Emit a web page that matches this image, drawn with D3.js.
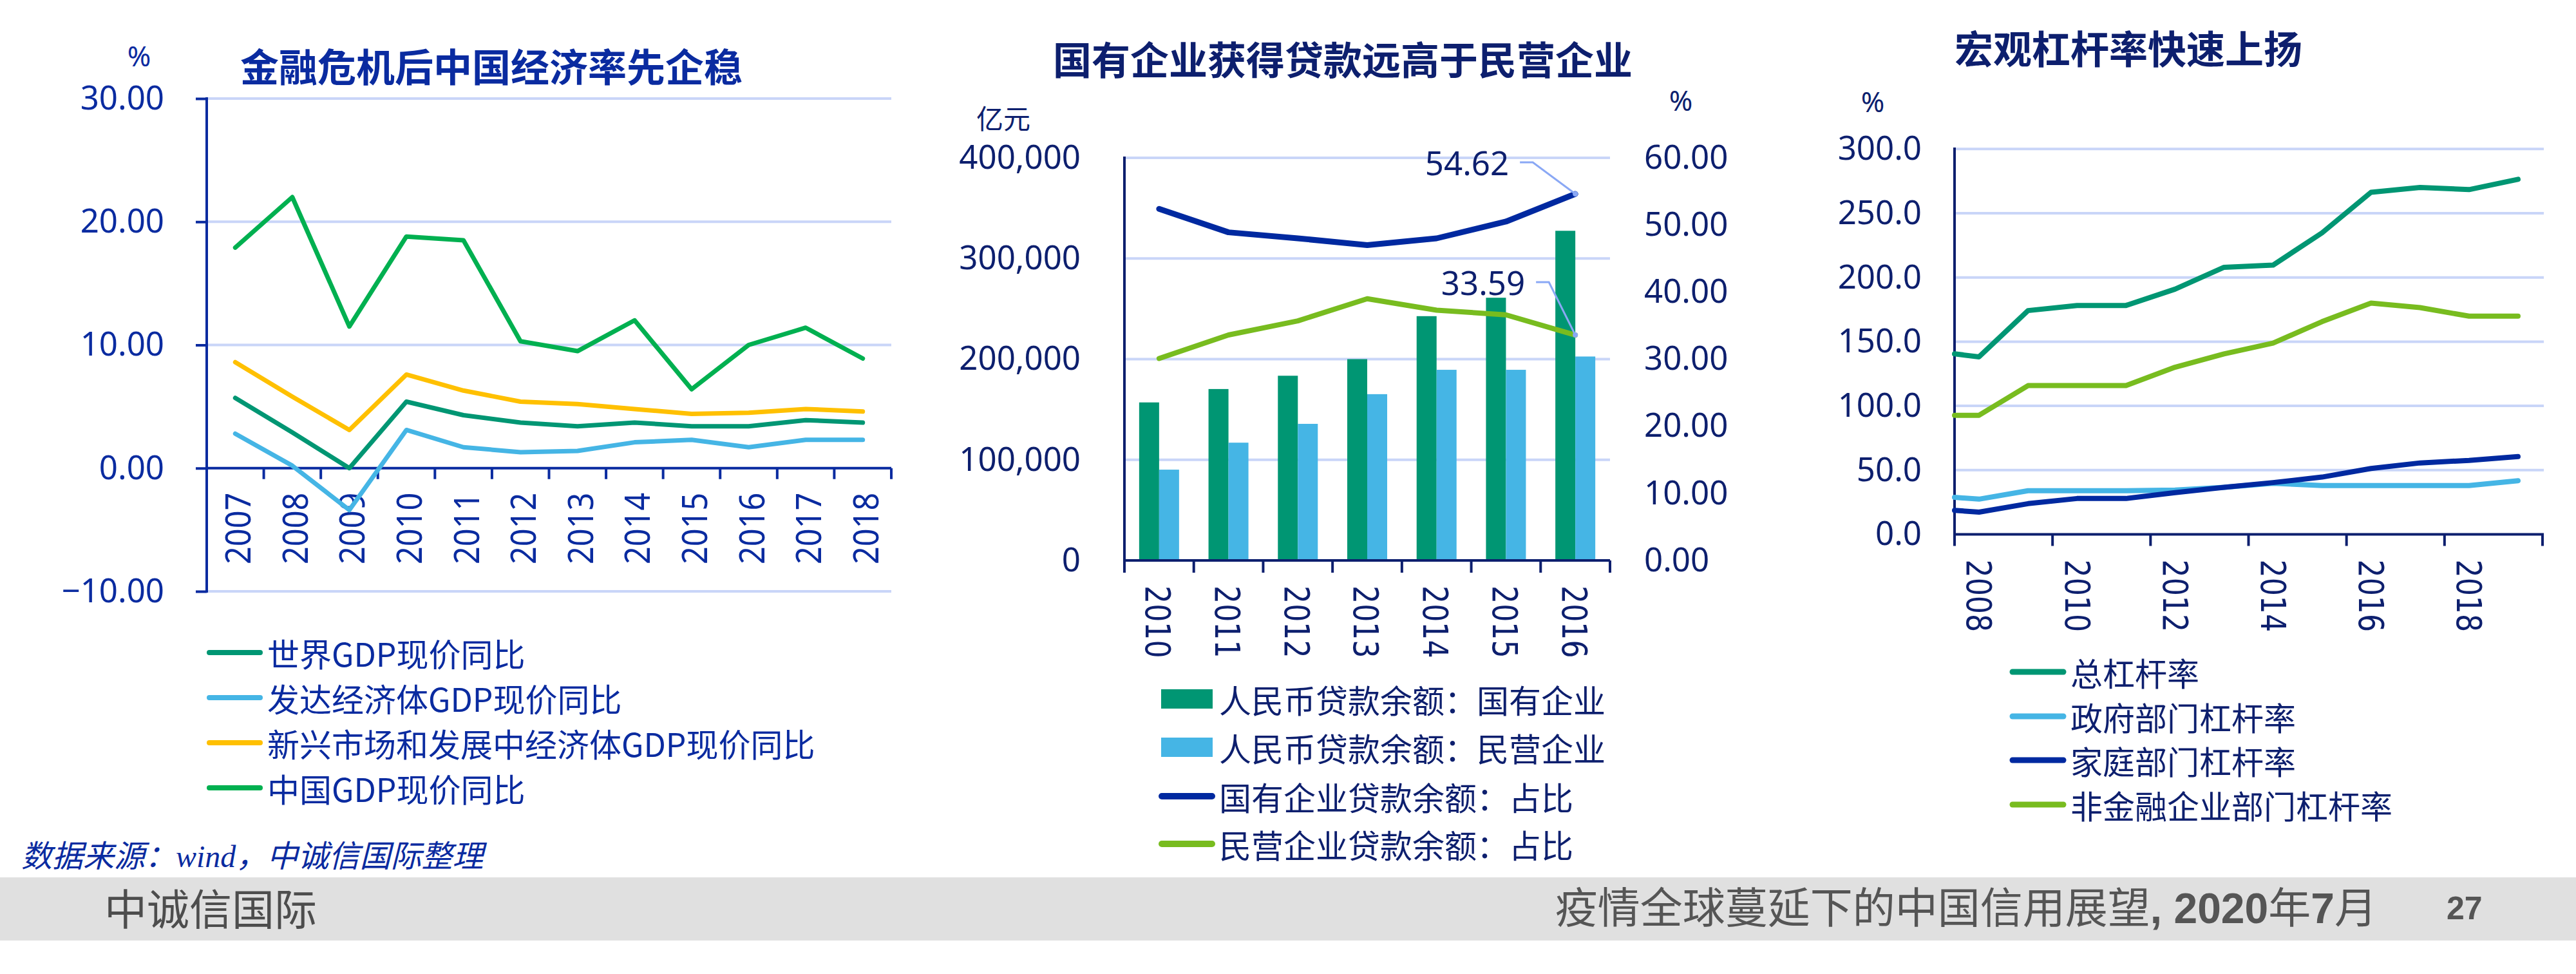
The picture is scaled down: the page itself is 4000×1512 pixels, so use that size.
<!DOCTYPE html>
<html><head><meta charset="utf-8">
<script src="https://cdn.jsdelivr.net/npm/d3@7"></script>
<style>
html,body{margin:0;padding:0;background:#fff;}
svg{display:block;}
</style></head><body>
<svg id="chart" width="4000" height="1512"></svg>
<script>
// ---------------- DATA ----------------
// Chart 1: 金融危机后中国经济率先企稳
const c1Years = ["2007","2008","2009","2010","2011","2012","2013","2014","2015","2016","2017","2018"];
const c1World     = [5.7, 2.9, 0.0, 5.4, 4.3, 3.7, 3.4, 3.7, 3.4, 3.4, 3.9, 3.7];
const c1Developed = [2.8, 0.2, -3.4, 3.1, 1.7, 1.3, 1.4, 2.1, 2.3, 1.7, 2.3, 2.3];
const c1Emerging  = [8.6, 5.8, 3.1, 7.6, 6.3, 5.4, 5.2, 4.8, 4.4, 4.5, 4.8, 4.6];
const c1China     = [17.9, 22.0, 11.5, 18.8, 18.5, 10.3, 9.5, 12.0, 6.4, 10.0, 11.4, 8.9];
const c1Names = ["世界GDP现价同比","发达经济体GDP现价同比","新兴市场和发展中经济体GDP现价同比","中国GDP现价同比"];
const c1Ticks = [-10, 0, 10, 20, 30];

// Chart 2: 国有企业获得贷款远高于民营企业
const c2Years = ["2010","2011","2012","2013","2014","2015","2016"];
const c2SoeLoans  = [157000, 170300, 183500, 200000, 242700, 261000, 327500];
const c2PrivLoans = [90200, 117000, 135700, 165200, 189400, 189400, 202600];
const c2SoeShare  = [52.4, 48.9, 48.0, 47.0, 48.0, 50.5, 54.62];
const c2PrivShare = [30.1, 33.6, 35.7, 39.0, 37.3, 36.6, 33.59];
const c2Names = ["人民币贷款余额：国有企业","人民币贷款余额：民营企业","国有企业贷款余额：占比","民营企业贷款余额：占比"];
const c2LeftTicks = [0, 100000, 200000, 300000, 400000];
const c2RightTicks = [0, 10, 20, 30, 40, 50, 60];

// Chart 3: 宏观杠杆率快速上扬
const c3Periods   = [2007.5, 2008, 2009, 2010, 2011, 2012, 2013, 2014, 2015, 2016, 2017, 2018, 2019];
const c3Total     = [140.5, 138.2, 174.2, 178.2, 178.2, 190.9, 207.9, 209.6, 234.7, 266.3, 270.1, 268.4, 276.4];
const c3Gov       = [28.8, 27.4, 34.0, 34.0, 34.0, 34.5, 36.6, 39.7, 38.0, 38.0, 38.0, 38.0, 41.8];
const c3Household = [18.7, 17.3, 23.9, 27.9, 27.9, 32.5, 36.6, 40.3, 44.6, 51.3, 55.6, 57.6, 60.5];
const c3Corp      = [92.7, 92.7, 115.8, 115.8, 115.8, 130.1, 140.5, 148.9, 165.6, 180.0, 176.5, 169.9, 169.9];
const c3Names = ["总杠杆率","政府部门杠杆率","家庭部门杠杆率","非金融企业部门杠杆率"];
const c3Ticks = [0, 50, 100, 150, 200, 250, 300];
const c3LabelYears = [2008, 2010, 2012, 2014, 2016, 2018];

// ---------------- STYLE ----------------
const CJK = "'Noto Sans CJK SC','Noto Sans',sans-serif";
const LAT = "'Noto Sans','Open Sans',sans-serif";
const ROT = "'DejaVu Sans',sans-serif";
const BLUE1 = "#0a2ba0";   // chart 1 text/axis
const NAVY = "#0d1f6e";    // chart 2/3 text/axis
const GRID = "#c9d5f8";
const C_TEAL = "#009673", C_LBLUE = "#45b5e5", C_YEL = "#ffc000", C_GREEN = "#00b050",
      C_NAVYLINE = "#0029a0", C_LIME = "#78bc1f";

const svg = d3.select("#chart");
svg.append("rect").attr("width",4000).attr("height",1512).attr("fill","#fff");

function drawLine(g, xs, ys, color, w) {
  const line = d3.line().x(d=>d[0]).y(d=>d[1]);
  g.append("path").attr("d", line(xs.map((x,i)=>[x, ys[i]])))
    .attr("fill","none").attr("stroke",color).attr("stroke-width",w)
    .attr("stroke-linejoin","round").attr("stroke-linecap","round");
}

// ================= CHART 1 =================
{
  const g = svg.append("g");
  const x = d3.scaleBand().domain(c1Years).range([321, 1384]).padding(0);
  const y = d3.scaleLinear().domain([-10, 30]).range([918, 153]);
  const fmt = d3.format(".2f");
  // grid
  g.selectAll(".grid").data(c1Ticks.filter(d=>d!==0)).enter().append("line")
    .attr("x1",321).attr("x2",1384).attr("y1",d=>y(d)).attr("y2",d=>y(d))
    .attr("stroke",GRID).attr("stroke-width",4);
  // y axis
  const ya = g.append("g").attr("transform","translate(321,0)")
    .call(d3.axisLeft(y).tickValues(c1Ticks).tickSize(17).tickPadding(49).tickFormat(fmt));
  ya.select(".domain").remove();
  ya.selectAll(".tick line").attr("stroke",BLUE1).attr("stroke-width",4);
  ya.selectAll(".tick text").attr("fill",BLUE1).attr("font-family",LAT).attr("font-size",51);
  g.append("line").attr("x1",321).attr("x2",321).attr("y1",y(30)-2).attr("y2",y(-10)+2)
    .attr("stroke",BLUE1).attr("stroke-width",4);
  // x axis at 0
  g.append("line").attr("x1",321).attr("x2",1384).attr("y1",y(0)).attr("y2",y(0))
    .attr("stroke",BLUE1).attr("stroke-width",4);
  const bounds = c1Years.map(d=>x(d)).concat([x(c1Years[c1Years.length-1])+x.bandwidth()]).slice(1);
  g.selectAll(".xt").data(bounds).enter().append("line")
    .attr("x1",d=>d).attr("x2",d=>d).attr("y1",y(0)).attr("y2",y(0)+17)
    .attr("stroke",BLUE1).attr("stroke-width",4);
  g.selectAll(".xl").data(c1Years).enter().append("text")
    .attr("transform",d=>`translate(${x(d)+x.bandwidth()/2+3},${y(0)+38}) rotate(-90) scale(0.9,1)`)
    .attr("text-anchor","end").attr("dominant-baseline","central")
    .attr("font-family",LAT).attr("font-size",54).attr("fill",BLUE1).text(d=>d);
  // series
  const cx = c1Years.map(d=>x(d)+x.bandwidth()/2);
  const series = [[c1World,C_TEAL],[c1Developed,C_LBLUE],[c1Emerging,C_YEL],[c1China,C_GREEN]];
  series.forEach(([vals,col])=>drawLine(g, cx, vals.map(v=>y(v)), col, 7));
  // unit + title
  g.append("text").attr("x",216).attr("y",103).attr("text-anchor","middle")
    .attr("font-family",LAT).attr("font-size",44).attr("fill",BLUE1).text("%");
  g.append("text").attr("x",373).attr("y",127).attr("font-family",CJK).attr("font-weight",700)
    .attr("font-size",60).attr("fill",BLUE1).text("金融危机后中国经济率先企稳");
  // legend
  const ly = [1013, 1083, 1153, 1223];
  series.forEach(([vals,col],i)=>{
    g.append("line").attr("x1",325).attr("x2",404).attr("y1",ly[i]).attr("y2",ly[i])
      .attr("stroke",col).attr("stroke-width",8).attr("stroke-linecap","round");
    g.append("text").attr("x",415).attr("y",ly[i]).attr("dominant-baseline","central")
      .attr("font-family",CJK).attr("font-size",50).attr("fill",BLUE1).text(c1Names[i]);
  });
}

// ================= CHART 2 =================
{
  const g = svg.append("g");
  const x = d3.scaleBand().domain(c2Years).range([1746, 2500]).padding(0);
  const yL = d3.scaleLinear().domain([0, 400000]).range([870, 245]);
  const yR = d3.scaleLinear().domain([0, 60]).range([870, 245]);
  const inner = d3.scaleBand().domain(["soe","priv"]).range([-31, 31]).padding(0);
  // grid
  g.selectAll(".grid").data(c2LeftTicks.filter(d=>d>0)).enter().append("line")
    .attr("x1",1746).attr("x2",2500).attr("y1",d=>yL(d)).attr("y2",d=>yL(d))
    .attr("stroke",GRID).attr("stroke-width",4);
  // left axis labels
  const la = g.append("g").attr("transform","translate(1746,0)")
    .call(d3.axisLeft(yL).tickValues(c2LeftTicks).tickSize(0).tickPadding(68).tickFormat(d3.format(",")));
  la.select(".domain").remove();
  la.selectAll(".tick text").attr("fill",NAVY).attr("font-family",LAT).attr("font-size",51);
  const ra = g.append("g").attr("transform","translate(2500,0)")
    .call(d3.axisRight(yR).tickValues(c2RightTicks).tickSize(0).tickPadding(53).tickFormat(d3.format(".2f")));
  ra.select(".domain").remove();
  ra.selectAll(".tick text").attr("fill",NAVY).attr("font-family",LAT).attr("font-size",51);
  // bars
  c2Years.forEach((yr,i)=>{
    const c = x(yr)+x.bandwidth()/2;
    g.append("rect").attr("x",c+inner("soe")).attr("width",inner.bandwidth())
      .attr("y",yL(c2SoeLoans[i])).attr("height",yL(0)-yL(c2SoeLoans[i])).attr("fill",C_TEAL);
    g.append("rect").attr("x",c+inner("priv")).attr("width",inner.bandwidth())
      .attr("y",yL(c2PrivLoans[i])).attr("height",yL(0)-yL(c2PrivLoans[i])).attr("fill",C_LBLUE);
  });
  // axes lines
  g.append("line").attr("x1",1746).attr("x2",1746).attr("y1",243).attr("y2",889)
    .attr("stroke",NAVY).attr("stroke-width",4);
  g.append("line").attr("x1",1746).attr("x2",2500).attr("y1",yL(0)).attr("y2",yL(0))
    .attr("stroke",NAVY).attr("stroke-width",4);
  const bounds = c2Years.map(d=>x(d)).concat([2500]).slice(1);
  g.selectAll(".xt").data(bounds).enter().append("line")
    .attr("x1",d=>d).attr("x2",d=>d).attr("y1",yL(0)).attr("y2",yL(0)+19)
    .attr("stroke",NAVY).attr("stroke-width",4);
  g.selectAll(".xl").data(c2Years).enter().append("text")
    .attr("transform",d=>`translate(${x(d)+x.bandwidth()/2-2},${yL(0)+39}) rotate(90) scale(0.82,1)`)
    .attr("text-anchor","start").attr("dominant-baseline","central")
    .attr("font-family",ROT).attr("font-size",54).attr("fill",NAVY).text(d=>d);
  // lines
  const cx = c2Years.map(d=>x(d)+x.bandwidth()/2);
  drawLine(g, cx, c2SoeShare.map(v=>yR(v)), C_NAVYLINE, 9);
  drawLine(g, cx, c2PrivShare.map(v=>yR(v)), C_LIME, 8);
  // annotations on last points
  const last = c2Years.length-1;
  const ann = [[c2SoeShare[last], -103, -49], [c2PrivShare[last], -78, -82]];
  ann.forEach(([v,dx,dy])=>{
    const px = cx[last], py = yR(v);
    const lx = px+dx, lyy = py+dy;
    g.append("polyline").attr("points",`${lx+17},${lyy} ${lx+37},${lyy} ${px},${py}`)
      .attr("fill","none").attr("stroke","#8aa8f5").attr("stroke-width",3);
    g.append("circle").attr("cx",px).attr("cy",py).attr("r",4).attr("fill","#8aa8f5");
    g.append("text").attr("x",lx).attr("y",lyy).attr("text-anchor","end").attr("dominant-baseline","central")
      .attr("font-family",LAT).attr("font-size",51).attr("fill",NAVY).text(d3.format(".2f")(v));
  });
  // units + title
  g.append("text").attr("x",1558).attr("y",200).attr("text-anchor","middle")
    .attr("font-family",CJK).attr("font-size",42).attr("fill",NAVY).text("亿元");
  g.append("text").attr("x",2610).attr("y",172).attr("text-anchor","middle")
    .attr("font-family",LAT).attr("font-size",44).attr("fill",NAVY).text("%");
  g.append("text").attr("x",2085).attr("y",116).attr("text-anchor","middle").attr("font-family",CJK)
    .attr("font-weight",700).attr("font-size",60).attr("fill",NAVY).text("国有企业获得贷款远高于民营企业");
  // legend
  const ly = [1085, 1160, 1236, 1310];
  [[C_TEAL,"rect"],[C_LBLUE,"rect"],[C_NAVYLINE,"line"],[C_LIME,"line"]].forEach(([col,type],i)=>{
    if (type==="rect") {
      g.append("rect").attr("x",1803).attr("y",ly[i]-15).attr("width",80).attr("height",30).attr("fill",col);
    } else {
      g.append("line").attr("x1",1804).attr("x2",1882).attr("y1",ly[i]).attr("y2",ly[i])
        .attr("stroke",col).attr("stroke-width",10).attr("stroke-linecap","round");
    }
    g.append("text").attr("x",1893).attr("y",ly[i]).attr("dominant-baseline","central")
      .attr("font-family",CJK).attr("font-size",50).attr("fill",NAVY).text(c2Names[i]);
  });
}

// ================= CHART 3 =================
{
  const g = svg.append("g");
  const x = d3.scaleLinear().domain([2007.5, 2019.5]).range([3035, 3948]);
  const y = d3.scaleLinear().domain([0, 300]).range([829.5, 231.3]);
  g.selectAll(".grid").data(c3Ticks.filter(d=>d>0)).enter().append("line")
    .attr("x1",3035).attr("x2",3950).attr("y1",d=>y(d)).attr("y2",d=>y(d))
    .attr("stroke",GRID).attr("stroke-width",4);
  const ya = g.append("g").attr("transform","translate(3035,0)")
    .call(d3.axisLeft(y).tickValues(c3Ticks).tickSize(0).tickPadding(51).tickFormat(d3.format(".1f")));
  ya.select(".domain").remove();
  ya.selectAll(".tick text").attr("fill",NAVY).attr("font-family",LAT).attr("font-size",51);
  g.append("line").attr("x1",3035).attr("x2",3035).attr("y1",229).attr("y2",y(0)+2)
    .attr("stroke",NAVY).attr("stroke-width",4);
  g.append("line").attr("x1",3035).attr("x2",3950).attr("y1",y(0)).attr("y2",y(0))
    .attr("stroke",NAVY).attr("stroke-width",4);
  const tickYears = d3.range(2007.5, 2020, 2);
  g.selectAll(".xt").data(tickYears).enter().append("line")
    .attr("x1",d=>x(d)).attr("x2",d=>x(d)).attr("y1",y(0)).attr("y2",y(0)+18)
    .attr("stroke",NAVY).attr("stroke-width",4);
  g.selectAll(".xl").data(c3LabelYears).enter().append("text")
    .attr("transform",d=>`translate(${x(d)},${y(0)+39}) rotate(90) scale(0.82,1)`)
    .attr("text-anchor","start").attr("dominant-baseline","central")
    .attr("font-family",ROT).attr("font-size",54).attr("fill",NAVY).text(d=>d);
  const px = c3Periods.map(d=>x(d));
  const series = [[c3Total,C_TEAL],[c3Gov,C_LBLUE],[c3Household,C_NAVYLINE],[c3Corp,C_LIME]];
  series.forEach(([vals,col])=>drawLine(g, px, vals.map(v=>y(v)), col, 8));
  g.append("text").attr("x",2908).attr("y",174).attr("text-anchor","middle")
    .attr("font-family",LAT).attr("font-size",44).attr("fill",NAVY).text("%");
  g.append("text").attr("x",3035).attr("y",99).attr("font-family",CJK).attr("font-weight",700)
    .attr("font-size",60).attr("fill",NAVY).text("宏观杠杆率快速上扬");
  const ly = [1043, 1112, 1180, 1249];
  series.forEach(([vals,col],i)=>{
    g.append("line").attr("x1",3125).attr("x2",3204).attr("y1",ly[i]).attr("y2",ly[i])
      .attr("stroke",col).attr("stroke-width",9).attr("stroke-linecap","round");
    g.append("text").attr("x",3215).attr("y",ly[i]).attr("dominant-baseline","central")
      .attr("font-family",CJK).attr("font-size",50).attr("fill",NAVY).text(c3Names[i]);
  });
}

// ================= SOURCE + FOOTER =================
{
  const src = svg.append("text").attr("x",33).attr("y",1346).attr("font-family",CJK)
    .attr("font-size",48).attr("font-style","italic").attr("fill",BLUE1);
  src.append("tspan").text("数据来源：");
  src.append("tspan").attr("font-family","'Liberation Serif',serif").text("wind");
  src.append("tspan").text("，中诚信国际整理");

  svg.append("rect").attr("x",0).attr("y",1362).attr("width",4000).attr("height",98).attr("fill","#e0e0e0");
  svg.append("text").attr("x",162).attr("y",1436).attr("font-family",CJK).attr("font-size",66)
    .attr("fill","#4d4d4d").text("中诚信国际");
  const ft = svg.append("text").attr("x",3691).attr("y",1433).attr("text-anchor","end")
    .attr("font-family",CJK).attr("font-size",66).attr("fill","#555");
  ft.append("tspan").text("疫情全球蔓延下的中国信用展望");
  ft.append("tspan").attr("font-family","'Liberation Sans',Arial,sans-serif").attr("font-weight",700).text(", 2020");
  ft.append("tspan").text("年");
  ft.append("tspan").attr("font-family","'Liberation Sans',Arial,sans-serif").attr("font-weight",700).text("7");
  ft.append("tspan").text("月");
  svg.append("text").attr("x",3799).attr("y",1427).attr("font-family","'Liberation Sans',Arial,sans-serif")
    .attr("font-weight",700).attr("font-size",50).attr("fill","#555").text("27");
}
</script>
</body></html>
